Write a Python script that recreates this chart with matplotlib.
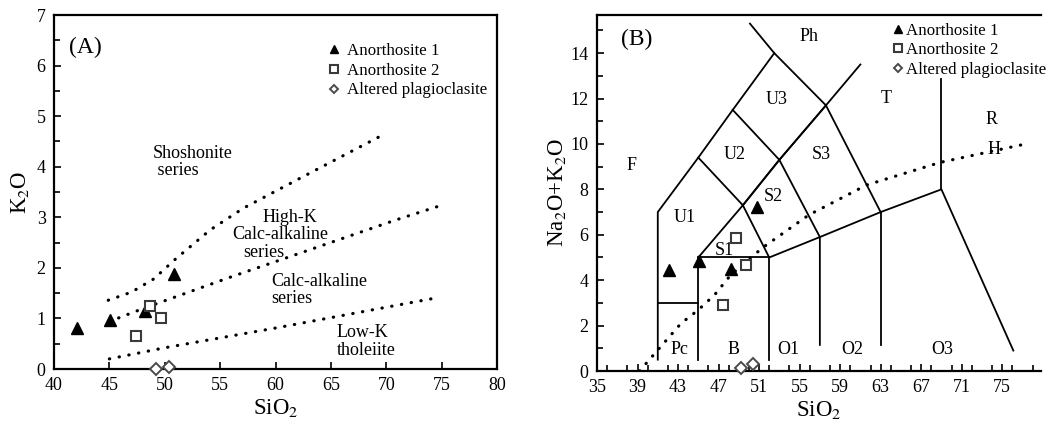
import numpy as np
import matplotlib.pyplot as plt
from matplotlib.ticker import MultipleLocator

plt.rcParams['font.family'] = ['Liberation Serif', 'DejaVu Serif']
plt.rcParams['mathtext.fontset'] = 'stix'

# ---- sample data (SiO2, K2O, Na2O+K2O) ----
ano1_sio2 = [42.1, 45.1, 48.2, 50.8]
ano1_k2o = [0.82, 0.97, 1.15, 1.87]
ano1_alk = [4.45, 4.85, 4.48, 7.21]

ano2_sio2 = [47.4, 48.7, 49.7]
ano2_k2o = [0.66, 1.25, 1.01]
ano2_alk = [2.91, 5.84, 4.67]

alt_sio2 = [49.2, 50.4]
alt_k2o = [0.0, 0.03]
alt_alk = [0.12, 0.31]

# ---- K2O-SiO2 series boundaries (dotted) ----
sho_x = [44.9, 47.0, 49.0, 51.0, 54.1, 57.1, 62.2, 69.7]
sho_y = [1.36, 1.52, 1.78, 2.18, 2.75, 3.18, 3.77, 4.63]
hik_x = [45.0, 48.1, 56.1, 62.2, 70.9, 74.6]
hik_y = [0.94, 1.20, 1.83, 2.29, 2.95, 3.21]
lowk_x = [45.0, 50.0, 60.0, 74.6]
lowk_y = [0.20, 0.42, 0.81, 1.41]

# ---- TAS field boundaries ----
tas_lines = [
    [(41, 0.5), (41, 7), (45, 9.4), (48.4, 11.5), (52.5, 14), (57.6, 11.7), (63, 7), (69, 8), (76.1, 0.9)],
    [(41, 3), (45, 3)],
    [(45, 0.5), (45, 5), (52, 5), (52, 0.5)],
    [(45, 5), (49.4, 7.3), (52, 5)],
    [(52, 5), (57, 5.9), (63, 7)],
    [(57, 1.15), (57, 5.9), (53, 9.3), (49.4, 7.3), (45, 9.4)],
    [(63, 1.15), (63, 7)],
    [(48.4, 11.5), (53, 9.3), (57.6, 11.7)],
    [(49.4, 7.3), (53, 9.3)],
    [(53, 9.3), (57.6, 11.7), (61.0, 13.5)],
    [(52.5, 14), (50.1, 15.3)],
    [(69, 8), (69, 12.86)],
]
ib_x = [39.2, 41.15, 43.3, 45.0, 46.6, 48.2, 49.9, 51.5, 55.9, 61.6, 68.9, 76.9]
ib_y = [0.0, 1.0, 2.1, 2.69, 3.35, 4.23, 4.89, 5.48, 6.87, 8.19, 9.19, 9.96]

tas_names = ['Ph', 'U3', 'T', 'R', 'H', 'U2', 'S3', 'F', 'S2', 'U1', 'S1',
             'Pc', 'B', 'O1', 'O2', 'O3']
tas_name_x = [55.9, 52.7, 63.5, 73.9, 74.2, 48.6, 57.1, 38.4, 52.4, 43.7, 47.6,
              43.1, 48.5, 53.9, 60.2, 69.1]
tas_name_y = [14.73, 11.97, 12.0, 11.09, 9.74, 9.55, 9.55, 9.05, 7.68, 6.77, 5.29,
              0.93, 0.93, 0.93, 0.93, 0.93]

fig = plt.figure(figsize=(10.48, 4.24), dpi=100)
axA = fig.add_axes([54/1048, 1-369/424, 443/1048, 354/424])
axB = fig.add_axes([597/1048, 1-371/424, (78.8-35)*10.13/1048, 356/424])

dot = (0, (0.1, 3.0))

# ---------- (A) ----------
for xs, ys in [(sho_x, sho_y), (hik_x, hik_y), (lowk_x, lowk_y)]:
    axA.plot(xs, ys, color='black', lw=2.3, ls=dot, dash_capstyle='round')

axA.plot(ano1_sio2, ano1_k2o, '^', color='black', ms=9, ls='none', label='Anorthosite 1', clip_on=False)
axA.plot(ano2_sio2, ano2_k2o, 's', mfc='white', mec='#3a3a3a', mew=1.5, ms=7.5, ls='none',
         label='Anorthosite 2', clip_on=False)
axA.plot(alt_sio2, alt_k2o, 'D', mfc='white', mec='#4a4a4a', mew=1.4, ms=6, ls='none',
         label='Altered plagioclasite', clip_on=False, zorder=5)

axA.set_xlim(40, 80)
axA.set_ylim(0, 7)
axA.xaxis.set_major_locator(MultipleLocator(5))
axA.yaxis.set_major_locator(MultipleLocator(1))
axA.yaxis.set_minor_locator(MultipleLocator(0.5))
axA.tick_params(direction='in', which='major', length=5, width=1.2, labelsize=13, pad=6)
axA.tick_params(direction='in', which='minor', length=4, width=1.2)
for s in axA.spines.values():
    s.set_linewidth(1.6)
axA.set_xlabel('SiO$_2$', fontsize=16.5, labelpad=2)
axA.set_ylabel('K$_2$O', fontsize=16.5, labelpad=4)

axA.text(42.8, 6.35, '(A)', fontsize=17, va='center', ha='center')
axA.text(48.9, 4.09, 'Shoshonite\n series', fontsize=13, va='center', ha='left', linespacing=1.0)
axA.text(61.3, 3.0, 'High-K', fontsize=13, va='center', ha='center')
axA.text(60.4, 2.65, 'Calc-alkaline', fontsize=13, va='center', ha='center')
axA.text(58.9, 2.31, 'series', fontsize=13, va='center', ha='center')
axA.text(59.6, 1.56, 'Calc-alkaline\nseries', fontsize=13, va='center', ha='left', linespacing=1.05)
axA.text(65.5, 0.55, 'Low-K\ntholeiite', fontsize=13, va='center', ha='left', linespacing=1.05)

axA.legend(loc='upper left', bbox_to_anchor=(327/1048, 1-43/424), bbox_transform=fig.transFigure,
           frameon=False, fontsize=12.2, markerscale=0.7, handlelength=0.8, handletextpad=0.4,
           labelspacing=0.22, borderpad=0, borderaxespad=0)

# ---------- (B) ----------
for seg in tas_lines:
    xs = [p[0] for p in seg]
    ys = [p[1] for p in seg]
    axB.plot(xs, ys, color='black', lw=1.3, solid_joinstyle='miter')
axB.plot(ib_x, ib_y, color='black', lw=2.3, ls=dot, dash_capstyle='round')

for name, x, y in zip(tas_names, tas_name_x, tas_name_y):
    axB.text(x, y, name, fontsize=13, ha='center', va='center')

axB.plot(ano1_sio2, ano1_alk, '^', color='black', ms=8.5, ls='none', label='Anorthosite 1')
axB.plot(ano2_sio2, ano2_alk, 's', mfc='white', mec='#3a3a3a', mew=1.5, ms=7.5, ls='none',
         label='Anorthosite 2')
axB.plot(alt_sio2, alt_alk, 'D', mfc='white', mec='#4a4a4a', mew=1.4, ms=6.5, ls='none',
         label='Altered plagioclasite', clip_on=False, zorder=5)

axB.set_xlim(35, 78.8)
axB.set_ylim(0, 15.68)
axB.set_xticks(np.arange(35, 76, 4))
axB.xaxis.set_minor_locator(MultipleLocator(2))
axB.yaxis.set_major_locator(MultipleLocator(2))
axB.yaxis.set_minor_locator(MultipleLocator(1))
axB.tick_params(direction='in', which='major', length=5, width=1.2, labelsize=13, pad=6)
axB.tick_params(direction='in', which='minor', length=4, width=1.2)
for s in axB.spines.values():
    s.set_linewidth(1.6)
axB.spines['right'].set_visible(False)
axB.set_xlabel('SiO$_2$', fontsize=16.5, labelpad=2)
axB.set_ylabel('Na$_2$O+K$_2$O', fontsize=16.5, labelpad=2)
axB.text(37.4, 14.6, '(B)', fontsize=17, va='center', ha='left')

axB.legend(loc='upper left', bbox_to_anchor=(892/1048, 1-23/424), bbox_transform=fig.transFigure,
           frameon=False, fontsize=12.2, markerscale=0.7, handlelength=0.7, handletextpad=0.15,
           labelspacing=0.2, borderpad=0, borderaxespad=0)

fig.savefig('out.png', dpi=100)
